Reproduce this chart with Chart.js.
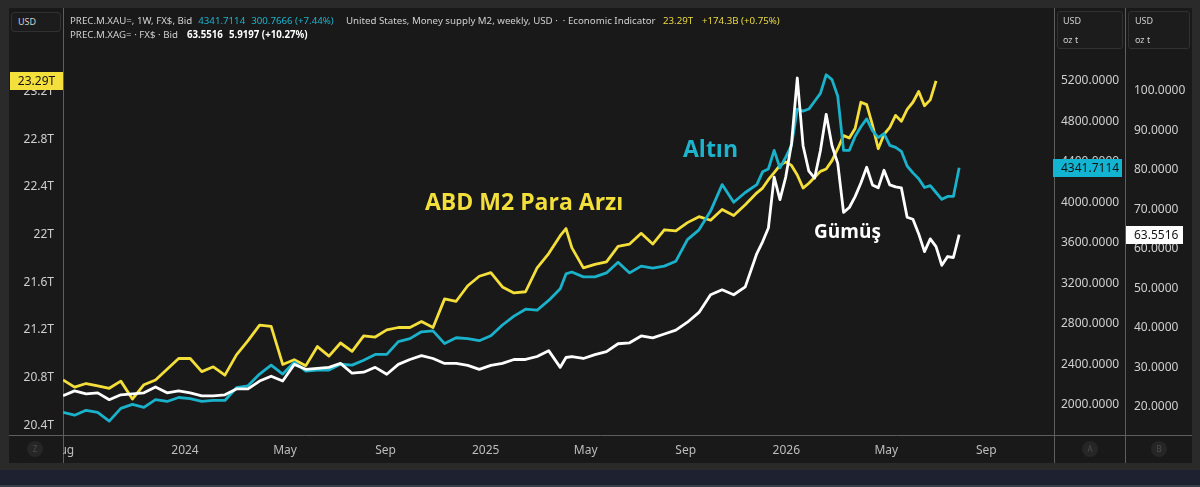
<!DOCTYPE html>
<html><head><meta charset="utf-8">
<script src="https://cdn.jsdelivr.net/npm/chart.js@4.4.1/dist/chart.umd.min.js"></script>
<style>
html,body{margin:0;padding:0;width:1200px;height:487px;overflow:hidden;background:#2a2a2a;font-family:'Noto Sans',sans-serif;}
#panel{position:absolute;left:9px;top:8px;width:1183px;height:455px;background:#191919;}
#band{position:absolute;left:0;top:470px;width:1200px;height:17px;background:#1e2230;border-bottom:2px solid #3a3f4c;box-sizing:border-box;}
#wrap{position:absolute;left:0;top:0;width:1200px;height:487px;}
canvas{display:block;}
.t{position:absolute;white-space:nowrap;line-height:1;}
.leg{font-size:9.7px;color:#d0d0d0;}
.leg span{margin-left:6px;}
.cy{color:#1fb2cb;}
.ye{color:#e9d843;}
.wb{color:#ffffff;font-weight:700;}
.box{position:absolute;border:1px solid #313131;border-radius:3px;background:#1c1c1c;box-sizing:border-box;}
.bx{position:absolute;font-size:9px;color:#cfcfcf;line-height:1;}
.circ{position:absolute;width:16px;height:16px;border-radius:8px;background:#262626;color:#4d4d4d;font-size:8px;line-height:16px;text-align:center;}
.ann{position:absolute;white-space:nowrap;line-height:1;font-family:'Open Sans',sans-serif;font-weight:700;}
</style></head>
<body>
<div id="panel"></div>
<div id="band"></div>
<div id="wrap"><canvas id="c" width="1200" height="487"></canvas></div>

<div class="box" style="left:11px;top:12px;width:50px;height:20px;"></div>
<div class="bx" style="left:18px;top:17px;">USD</div>
<div class="box" style="left:1057px;top:11px;width:66px;height:38px;"></div>
<div class="bx" style="left:1063px;top:16px;">USD</div>
<div class="bx" style="left:1063px;top:35px;">oz t</div>
<div class="box" style="left:1128px;top:11px;width:62px;height:38px;"></div>
<div class="bx" style="left:1135px;top:16px;">USD</div>
<div class="bx" style="left:1135px;top:35px;">oz t</div>

<div class="t leg" style="left:70px;top:15.5px;">PREC.M.XAU=, 1W, FX$, Bid<span class="cy">4341.7114</span><span class="cy">300.7666 (+7.44%)</span></div>
<div class="t leg" style="left:346px;top:15.5px;">United States, Money supply M2, weekly, USD · &nbsp;· Economic Indicator</div>
<div class="t leg ye" style="left:663px;top:15.5px;">23.29T</div>
<div class="t leg ye" style="left:702px;top:15.5px;">+174.3B (+0.75%)</div>
<div class="t leg" style="left:70px;top:30px;">PREC.M.XAG= · FX$ · Bid<span class="wb" style="margin-left:9px;">63.5516</span><span class="wb">5.9197 (+10.27%)</span></div>

<div class="ann" style="left:425px;top:190px;font-size:23px;color:#f3df3c;">ABD M2 Para Arzı</div>
<div class="ann" style="left:683px;top:137px;font-size:23px;color:#1db3cc;">Altın</div>
<div class="ann" style="left:814px;top:222px;font-size:19px;color:#ffffff;">Gümüş</div>

<div class="circ" style="left:27px;top:441px;">Z</div>
<div class="circ" style="left:1082px;top:441px;">A</div>
<div class="circ" style="left:1151px;top:441px;">B</div>

<script>
// ---- data (weekly observations, week 0 = early Aug 2023) ----
const weeks = [0,2,4,6,8,10,12,14,16,18,20,22,24,26,28,30,32,34,36,38,40,42,44,46,48,50,52,54,56,58,
  60,62,64,66,68,70,72,74,76,78,80,82,84,86,87,88,90,92,94,96,98,100,102,104,106,108,110,112,114,116,118,
  120,121,122,123,124,125,126,127,128,129,130,131,132,133,134,135,136,137,138,139,
  140,141,142,143,144,145,146,147,148,149,150,151,152,153,154,155];

// US M2 money supply, trillion USD
const m2Supply = [20.78,20.72,20.75,20.73,20.71,20.77,20.62,20.74,20.78,20.87,
  20.96,20.96,20.85,20.89,20.82,20.99,21.11,21.24,21.23,20.91,
  20.95,20.90,21.06,20.98,21.09,21.02,21.15,21.14,21.20,21.22,
  21.22,21.27,21.22,21.46,21.44,21.57,21.65,21.68,21.56,21.51,
  21.52,21.72,21.84,21.99,22.05,21.89,21.72,21.75,21.77,21.90,21.92,
  22.01,21.92,22.04,22.03,22.10,22.15,22.12,22.21,22.16,22.25,
  22.35,22.39,22.46,22.52,22.58,22.61,22.58,22.50,22.39,22.43,
  22.48,22.53,22.55,22.62,22.72,22.83,22.81,22.89,23.11,23.09,
  22.92,22.72,22.84,22.90,23.00,22.95,23.05,23.11,23.20,23.08,
  23.13,23.29];

// Gold, USD / oz t
const goldPrice = [1924,1895,1944,1924,1837,1963,2002,1973,2050,2031,
  2070,2060,2031,2041,2041,2167,2186,2302,2390,2302,
  2419,2332,2341,2341,2399,2390,2438,2496,2496,2623,
  2652,2720,2729,2603,2661,2652,2632,2681,2787,2875,
  2943,2933,3030,3146,3292,3311,3263,3263,3302,3408,3302,
  3369,3350,3369,3418,3631,3728,3913,4175,4000,4097,
  4175,4301,4330,4514,4340,4446,4563,4922,4902,4922,
  4999,5077,5261,5213,5048,4514,4514,4650,4747,4825,
  4708,4640,4679,4563,4543,4504,4359,4291,4233,4146,
  4165,4097,4029,4058,4058,4341.7114];

// Silver, USD / oz t
const silverPrice = [22.73,23.98,23.23,23.48,21.74,22.98,23.23,23.48,24.97,23.48,
  23.98,23.48,22.73,22.73,22.98,24.47,24.47,26.46,27.70,26.46,
  30.68,29.44,29.69,29.94,30.93,28.45,28.70,29.94,28.20,30.68,
  31.93,32.92,32.18,30.93,30.93,30.44,29.44,30.44,30.93,31.93,
  31.93,32.68,34.17,29.94,32.43,32.68,32.18,33.17,33.92,35.91,36.15,
  37.89,37.40,38.39,39.38,41.37,43.85,48.33,49.57,48.33,50.31,
  58.76,61.74,65.22,78.13,72.42,78.13,86.58,103.22,86.08,79.62,
  77.88,84.84,94.03,86.08,81.61,69.19,70.43,73.17,76.64,80.62,
  76.15,75.40,79.87,76.15,75.65,75.40,67.95,67.45,63.73,59.25,
  62.48,60.50,55.78,58.01,57.76,63.5516];

// axis ticks
const xTickWeeks = [0,21.1,38.4,55.8,73.1,90.4,107.7,125.1,142.4,159.7];
const xTickLabels = ['Aug','2024','May','Sep','2025','May','Sep','2026','May','Sep'];
const m2Ticks = [20.4,20.8,21.2,21.6,22.0,22.4,22.8,23.2];
const goldTicks = [2000,2400,2800,3200,3600,4000,4400,4800,5200];
const silverTicks = [20,30,40,50,60,70,80,90,100];

const lastM2Label = '23.29T';
const lastGoldLabel = '4341.7114';
const lastSilverLabel = '63.5516';

// ---- chart ----
Chart.defaults.font.family = "'Noto Sans', sans-serif";
Chart.defaults.font.size = 12;
Chart.defaults.color = '#cdcdcd';

function series(vals){
  const out = [];
  weeks.forEach((w,i)=>{ if (vals[i] !== undefined && vals[i] !== null) out.push({x:w, y:vals[i]}); });
  return out;
}
function fixTicks(list){ return function(scale){ scale.ticks = list.map(v=>({value:v})); }; }
const tickFont = {family:"'Noto Sans', sans-serif", size:12};

const PANEL_BG = '#191919';
const decor = {
  id:'decor',
  beforeDraw(chart){
    const {ctx, chartArea:a, scales} = chart;
    ctx.save();
    ctx.strokeStyle = '#5e5e5e';
    ctx.lineWidth = 1;
    ctx.beginPath();
    [a.left, a.right, scales.yGold.right].forEach(x=>{
      const px = Math.round(x) + 0.5;
      ctx.moveTo(px, 8); ctx.lineTo(px, 463);
    });
    const by = Math.round(a.bottom) + 0.5;
    ctx.moveTo(9, by); ctx.lineTo(1192, by);
    ctx.stroke();
    ctx.restore();
  },
  afterDraw(chart){
    const {ctx, chartArea:a, scales} = chart;
    ctx.save();
    // hide the part of the first month label that falls left of the plot
    ctx.fillStyle = PANEL_BG;
    ctx.fillRect(9, Math.round(a.bottom) + 1, a.left - 9, 27);
    ctx.font = "12px 'Noto Sans', sans-serif";
    ctx.textBaseline = 'middle';
    // last-value tags
    const yM = scales.yM2.getPixelForValue(m2Supply[m2Supply.length-1]);
    ctx.fillStyle = '#f4e03c';
    ctx.fillRect(10, Math.round(yM) - 9, a.left - 10, 18);
    ctx.fillStyle = '#141414'; ctx.textAlign = 'center';
    ctx.fillText(lastM2Label, (10 + a.left)/2, yM + 0.5);

    const g = scales.yGold;
    const yG = g.getPixelForValue(goldPrice[goldPrice.length-1]);
    ctx.fillStyle = '#13b4d2';
    ctx.fillRect(g.left - 1, Math.round(yG) - 9, 69, 18);
    ctx.fillStyle = '#141414'; ctx.textAlign = 'left';
    ctx.fillText(lastGoldLabel, g.left + 7, yG + 0.5);

    const s = scales.ySilver;
    const yS = s.getPixelForValue(silverPrice[silverPrice.length-1]);
    ctx.fillStyle = '#ffffff';
    ctx.fillRect(s.left + 1, Math.round(yS) - 9, 57, 18);
    ctx.fillStyle = '#141414';
    ctx.fillText(lastSilverLabel, s.left + 9, yS + 0.5);
    ctx.restore();
  }
};

new Chart(document.getElementById('c'), {
  type:'line',
  data:{
    datasets:[
      {label:'Gümüş', data:series(silverPrice), yAxisID:'ySilver', borderColor:'#ffffff', order:0},
      {label:'Altın', data:series(goldPrice), yAxisID:'yGold', borderColor:'#1ab2cb', order:1},
      {label:'ABD M2 Para Arzı', data:series(m2Supply), yAxisID:'yM2', borderColor:'#f4df3a', order:2}
    ].map(d=>Object.assign(d,{borderWidth:2.8, pointRadius:0, tension:0, borderJoinStyle:'round', fill:false}))
  },
  options:{
    responsive:false,
    animation:false,
    events:[],
    layout:{padding:{left:9, right:8, top:8, bottom:24}},
    plugins:{legend:{display:false}, tooltip:{enabled:false}},
    scales:{
      x:{
        type:'linear', min:0, max:171.4,
        grid:{display:false, drawTicks:false}, border:{display:false},
        afterBuildTicks: fixTicks(xTickWeeks),
        afterFit(s){ s.height = 28; },
        ticks:{autoSkip:false, maxRotation:0, padding:8, color:'#bdbdbd', font:tickFont,
          callback:(v,i)=> xTickLabels[i]}
      },
      yM2:{
        position:'left', min:20.318, max:23.832,
        grid:{display:false, drawTicks:false}, border:{display:false},
        afterBuildTicks: fixTicks(m2Ticks),
        afterFit(s){ s.width = 54; },
        ticks:{padding:9, font:tickFont, color:'#cfcfcf',
          callback:v=> (+v.toFixed(1)) + 'T'}
      },
      yGold:{
        position:'right', weight:0, min:1699.4, max:5840,
        grid:{display:false, drawTicks:false}, border:{display:false},
        afterBuildTicks: fixTicks(goldTicks),
        afterFit(s){ s.width = 71; },
        ticks:{padding:7, font:tickFont, color:'#cfcfcf', callback:v=> v.toFixed(4)}
      },
      ySilver:{
        position:'right', weight:1, min:12.80, max:118.88,
        grid:{display:false, drawTicks:false}, border:{display:false},
        afterBuildTicks: fixTicks(silverTicks),
        afterFit(s){ s.width = 67; },
        ticks:{padding:9, font:tickFont, color:'#cfcfcf', callback:v=> v.toFixed(4)}
      }
    }
  },
  plugins:[decor]
});
</script>
</body></html>
